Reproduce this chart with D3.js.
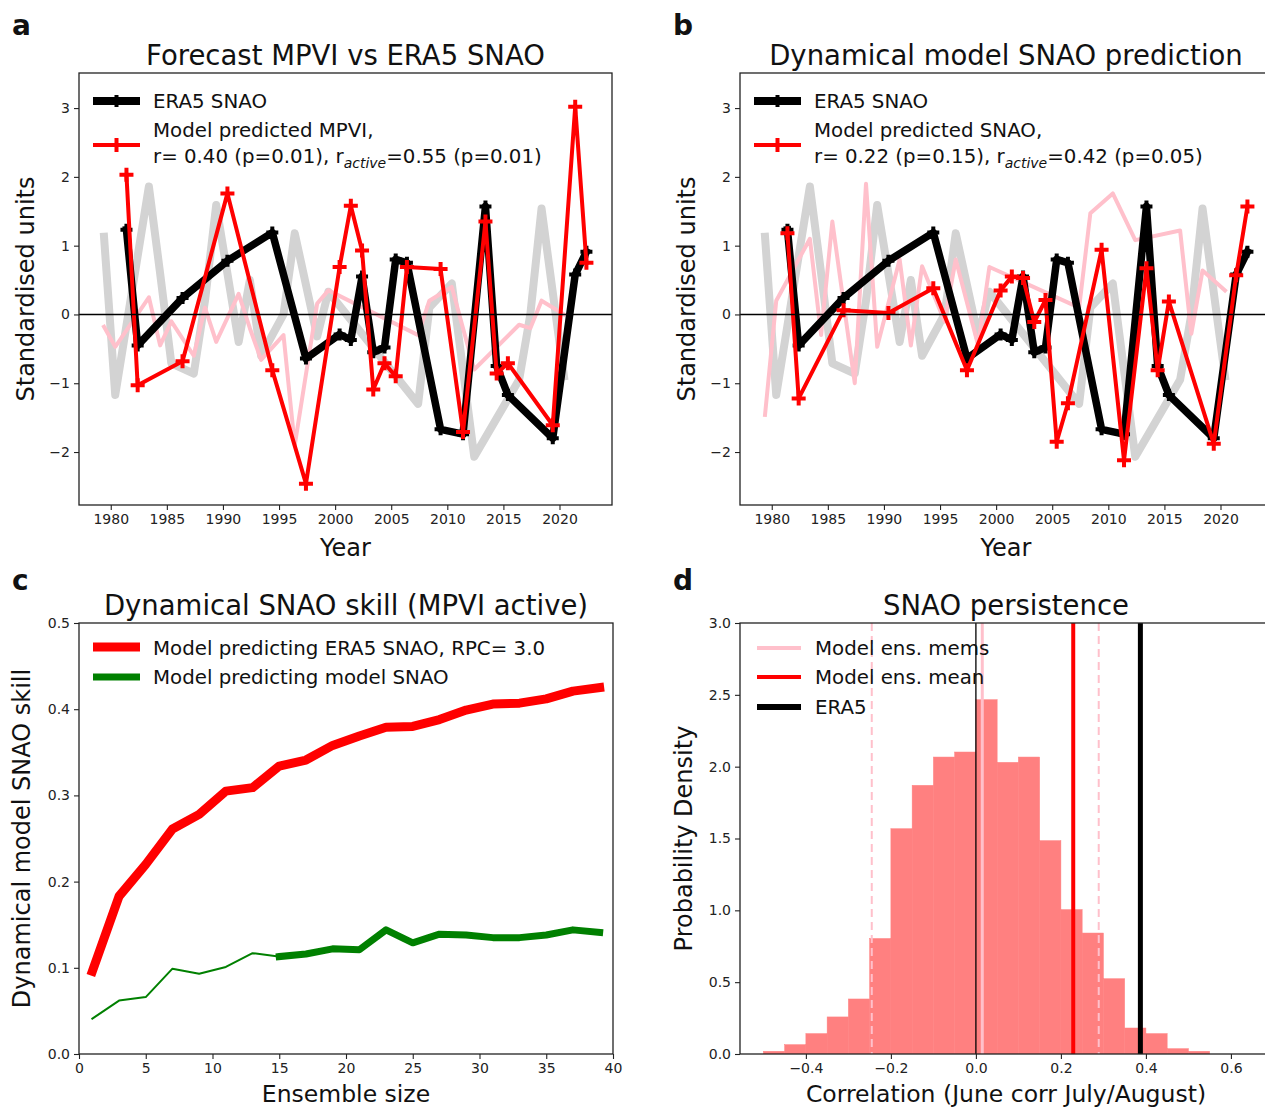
<!DOCTYPE html>
<html>
<head>
<meta charset="utf-8">
<script src="https://cdn.jsdelivr.net/npm/d3@7"></script>
<style>
  body { margin: 0; background: #fff; }
  text { font-family: "DejaVu Sans", sans-serif; }
</style>
</head>
<body>
<div id="chart"></div>
<script>
// ---- data ----
// years where the MPVI is active (plotted a little right of the integer year)
const activeYears = [1981.4, 1982.4, 1986.4, 1990.4, 1994.4, 1997.4, 2000.4, 2001.4, 2002.4, 2003.4, 2004.4,
    2005.4, 2006.4, 2009.4, 2011.4, 2013.4, 2014.4, 2015.4, 2019.4, 2021.4, 2022.4];
const era5Active = [1.23, -0.45, 0.24, 0.78, 1.19, -0.64, -0.29, -0.37, 0.55, -0.55, -0.48,
    0.8, 0.75, -1.67, -1.74, 1.57, -0.75, -1.17, -1.8, 0.58, 0.91];
const mpviActive = [2.03, -1.03, -0.68, 1.76, -0.81, -2.46, 0.69, 1.58, 0.93, -1.09, -0.71,
    -0.9, 0.69, 0.66, -1.71, 1.35, -0.86, -0.71, -1.61, 3.02, 0.75];
const snaoPredActive = [1.18, -1.22, 0.06, 0.02, 0.38, -0.81, 0.35, 0.55, 0.53, -0.11, 0.21,
    -1.85, -1.29, 0.94, -2.12, 0.67, -0.81, 0.19, -1.88, 0.57, 1.57];

// the other (inactive) years, drawn faint in the background
const inactiveYears = [1979.4, 1980.4, 1983.4, 1984.4, 1985.4, 1987.4, 1988.4, 1989.4, 1991.4, 1992.4, 1993.4,
    1995.4, 1996.4, 1998.4, 1999.4, 2007.4, 2008.4, 2010.4, 2012.4, 2016.4, 2017.4, 2018.4, 2020.4];
const era5Inactive = [1.13, -1.17, 1.86, 0.6, -0.71, -0.86, 0.2, 1.59, -0.4, 0.5, -0.6,
    0.0, 1.18, -0.32, 0.33, -1.3, 0.1, 0.45, -2.07, -0.95, 0.0, 1.54, -0.9];
const mpviInactive = [-0.18, -0.47, 0.25, -0.45, -0.1, -0.6, 0.1, -0.4, 0.3, -0.2, -0.66,
    -0.3, -1.9, 0.16, 0.35, -0.3, 0.2, 0.4, -0.8, -0.15, -0.2, 0.2, 0.0];
const snaoPredInactive = [-1.46, 0.2, 1.1, -0.3, 1.35, -1.0, 1.9, -0.47, 0.8, -0.45, 0.7,
    -0.1, 0.8, -0.45, 0.69, 0.1, 1.47, 1.76, 1.08, 1.22, -0.28, 0.64, 0.35];

// panel c: skill vs ensemble size
const ensSizes = [1, 3, 5, 7, 9, 11, 13, 15, 17, 19, 21, 23, 25, 27, 29, 31, 33, 35, 37, 39];
const skillEra5 = [0.096, 0.183, 0.22, 0.261, 0.278, 0.305, 0.309, 0.334, 0.341, 0.358,
    0.369, 0.379, 0.38, 0.388, 0.399, 0.406, 0.407, 0.412, 0.421, 0.425];
const skillModel = [0.041, 0.062, 0.066, 0.099, 0.093, 0.101, 0.117, 0.113, 0.116, 0.122,
    0.121, 0.144, 0.129, 0.139, 0.138, 0.135, 0.135, 0.138, 0.144, 0.141];

// panel d: histogram of member correlations
const binStarts = [-0.5, -0.45, -0.4, -0.35, -0.3, -0.25, -0.2, -0.15, -0.1, -0.05, 0.0,
    0.05, 0.1, 0.15, 0.2, 0.25, 0.3, 0.35, 0.4, 0.45, 0.5];
const binWidth = 0.05;
const density = [0.019, 0.065, 0.142, 0.258, 0.383, 0.804, 1.568, 1.87, 2.067, 2.102, 2.466,
    2.03, 2.067, 1.485, 1.005, 0.842, 0.524, 0.181, 0.142, 0.037, 0.019];
const memsMean = 0.015;
const memsSpread = [-0.245, 0.289];
const ensMeanCorr = 0.229;
const era5Corr = 0.387;

// ---- figure ----
const W = 1265, H = 1109;
const svg = d3.select("#chart").append("svg")
    .attr("width", W)
    .attr("height", H);

const tickFont = "14px";
const legendFont = "19.8px";
let clipCount = 0;

function makeAxes(box, xDomain, yDomain) {
    const x = d3.scaleLinear().domain(xDomain).range([box.left, box.right]);
    const y = d3.scaleLinear().domain(yDomain).range([box.bottom, box.top]);
    const id = "clip" + (clipCount++);
    svg.append("clipPath").attr("id", id).append("rect")
        .attr("x", box.left).attr("y", box.top)
        .attr("width", box.right - box.left).attr("height", box.bottom - box.top);
    const plot = svg.append("g").attr("clip-path", `url(#${id})`);
    return { x, y, plot, box };
}

function drawFrame(ax, xTicks, xFmt, yTicks, yFmt) {
    const { box, x, y } = ax;
    const xa = svg.append("g")
        .attr("transform", `translate(0, ${box.bottom})`)
        .call(d3.axisBottom(x).tickValues(xTicks).tickFormat(xFmt).tickSize(5).tickPadding(4).tickSizeOuter(0));
    const ya = svg.append("g")
        .attr("transform", `translate(${box.left}, 0)`)
        .call(d3.axisLeft(y).tickValues(yTicks).tickFormat(yFmt).tickSize(5).tickPadding(4).tickSizeOuter(0));
    [xa, ya].forEach(a => {
        a.select(".domain").remove();
        a.selectAll("text").style("font-size", tickFont).style("font-family", "DejaVu Sans").attr("fill", "#222");
        a.selectAll("line").attr("stroke", "#222").attr("stroke-width", 1.1);
    });
    svg.append("rect")
        .attr("x", box.left).attr("y", box.top)
        .attr("width", box.right - box.left).attr("height", box.bottom - box.top)
        .attr("fill", "none").attr("stroke", "#222").attr("stroke-width", 1.3);
}

function labels(box, title, xLabel, yLabel, yLabelX, letter, letterY, xLabelGap, xLabelSize) {
    const cx = Math.min((box.left + box.right) / 2, 1006);
    svg.append("text").attr("x", cx).attr("y", box.top - 8)
        .attr("text-anchor", "middle").style("font-size", "27.5px").attr("fill", "#111").text(title);
    svg.append("text").attr("x", cx).attr("y", box.bottom + xLabelGap)
        .attr("text-anchor", "middle").style("font-size", xLabelSize).attr("fill", "#111").text(xLabel);
    svg.append("text")
        .attr("transform", `translate(${yLabelX}, ${(box.top + box.bottom) / 2}) rotate(-90)`)
        .attr("text-anchor", "middle").style("font-size", "24px").attr("fill", "#111").text(yLabel);
    svg.append("text").attr("x", box.left - 67).attr("y", letterY)
        .style("font-size", "28px").style("font-weight", "bold").attr("fill", "#111").text(letter);
}

const plus = s => `M${-s},0H${s}M0,${-s}V${s}`;

function seriesLine(ax, xs, ys, color, width, marker) {
    const pts = xs.map((d, i) => [d, ys[i]]);
    const line = d3.line().x(d => ax.x(d[0])).y(d => ax.y(d[1]));
    ax.plot.append("path").datum(pts)
        .attr("d", line)
        .attr("fill", "none")
        .attr("stroke", color)
        .attr("stroke-width", width)
        .attr("stroke-linejoin", "round")
        .attr("stroke-linecap", "square");
    if (marker) {
        ax.plot.selectAll(null).data(pts).enter().append("path")
            .attr("transform", d => `translate(${ax.x(d[0])}, ${ax.y(d[1])})`)
            .attr("d", plus(marker.size))
            .attr("stroke", color)
            .attr("stroke-width", marker.width);
    }
}

function legendText(xp, yp, str) {
    return svg.append("text").attr("x", xp).attr("y", yp)
        .style("font-size", legendFont).attr("fill", "#111").text(str);
}

function rActive(xp, yp, before, after) {
    const t = svg.append("text").attr("x", xp).attr("y", yp).style("font-size", legendFont).attr("fill", "#111");
    t.append("tspan").text(before);
    t.append("tspan").attr("dy", 5).style("font-size", "14px").style("font-style", "italic").text("active");
    t.append("tspan").attr("dy", -5).text(after);
}

function legendHandle(x0, x1, yp, color, width, marker) {
    svg.append("line").attr("x1", x0).attr("x2", x1).attr("y1", yp).attr("y2", yp)
        .attr("stroke", color).attr("stroke-width", width);
    if (marker) {
        svg.append("path").attr("transform", `translate(${(x0 + x1) / 2}, ${yp})`)
            .attr("d", plus(marker.size)).attr("stroke", color).attr("stroke-width", marker.width);
    }
}

const yearTicks = d3.range(1980, 2021, 5);
const stdTicks = [-2, -1, 0, 1, 2, 3];
const yearDomain = [1977.17, 2024.68];
const stdDomain = [-2.77, 3.51];

// ---- panel a and b ----
function timePanel(box, predActive, predInactive, title, letter, legendLines) {
    const ax = makeAxes(box, yearDomain, stdDomain);
    seriesLine(ax, inactiveYears, era5Inactive, "#d3d3d3", 8);
    seriesLine(ax, inactiveYears, predInactive, "#ffc0cb", 4);
    seriesLine(ax, activeYears, era5Active, "#000", 7.5, { size: 6, width: 4 });
    seriesLine(ax, activeYears, predActive, "#ff0000", 4, { size: 7, width: 4 });
    ax.plot.append("line")
        .attr("x1", box.left).attr("x2", box.right)
        .attr("y1", ax.y(0)).attr("y2", ax.y(0))
        .attr("stroke", "#000").attr("stroke-width", 1.5);
    drawFrame(ax, yearTicks, d3.format("d"), stdTicks, d3.format("d"));
    labels(box, title, "Year", "Standardised units", box.left - 45, letter, 35, 51, "24px");

    const lx = box.left + 14;
    legendHandle(lx, lx + 47, 101, "#000", 8, { size: 6, width: 4 });
    legendText(lx + 60, 108, "ERA5 SNAO");
    legendHandle(lx, lx + 47, 145, "#ff0000", 4, { size: 7, width: 4 });
    legendText(lx + 60, 137, legendLines[0]);
    rActive(lx + 60, 163, legendLines[1], legendLines[2]);
}

timePanel({ left: 79, right: 612, top: 73, bottom: 505 }, mpviActive, mpviInactive,
    "Forecast MPVI vs ERA5 SNAO", "a",
    ["Model predicted MPVI,", "r= 0.40 (p=0.01), r", "=0.55 (p=0.01)"]);

timePanel({ left: 740, right: 1273, top: 73, bottom: 505 }, snaoPredActive, snaoPredInactive,
    "Dynamical model SNAO prediction", "b",
    ["Model predicted SNAO,", "r= 0.22 (p=0.15), r", "=0.42 (p=0.05)"]);

// ---- panel c ----
{
    const box = { left: 79, right: 613, top: 623, bottom: 1054 };
    const ax = makeAxes(box, [0, 40], [0, 0.5]);
    seriesLine(ax, ensSizes, skillEra5, "#ff0000", 9);
    const split = ensSizes.indexOf(15);
    seriesLine(ax, ensSizes.slice(0, split + 1), skillModel.slice(0, split + 1), "#008000", 2);
    seriesLine(ax, ensSizes.slice(split), skillModel.slice(split), "#008000", 7);
    drawFrame(ax, d3.range(0, 41, 5), d3.format("d"), d3.range(0, 0.51, 0.1), d3.format(".1f"));
    labels(box, "Dynamical SNAO skill (MPVI active)", "Ensemble size", "Dynamical model SNAO skill",
        box.left - 49, "c", 590, 48, "23.5px");
    legendHandle(93, 140, 647, "#ff0000", 9);
    legendText(153, 655, "Model predicting ERA5 SNAO, RPC= 3.0");
    legendHandle(93, 140, 677, "#008000", 7);
    legendText(153, 684, "Model predicting model SNAO");
}

// ---- panel d ----
{
    const box = { left: 740, right: 1273, top: 623, bottom: 1054 };
    const ax = makeAxes(box, [-0.555, 0.699], [0, 3.0]);
    ax.plot.selectAll(".bin").data(binStarts).enter().append("rect")
        .attr("x", d => ax.x(d))
        .attr("width", d => ax.x(d + binWidth) - ax.x(d))
        .attr("y", (d, i) => ax.y(density[i]))
        .attr("height", (d, i) => ax.y(0) - ax.y(density[i]))
        .attr("fill", "#ff8080")
        .attr("stroke", "#ff8080")
        .attr("stroke-width", 0.5);
    const vline = (v, color, width, dash) => ax.plot.append("line")
        .attr("x1", ax.x(v)).attr("x2", ax.x(v))
        .attr("y1", box.top).attr("y2", box.bottom)
        .attr("stroke", color).attr("stroke-width", width)
        .attr("stroke-dasharray", dash || null);
    vline(0, "#000", 1.3);
    memsSpread.forEach(v => vline(v, "#ffc0cb", 2, "8,5"));
    vline(memsMean, "#ffc0cb", 3);
    vline(ensMeanCorr, "#ff0000", 4);
    vline(era5Corr, "#000", 5);
    drawFrame(ax, [-0.4, -0.2, 0, 0.2, 0.4, 0.6], d3.format(".1f"), d3.range(0, 3.01, 0.5), d3.format(".1f"));
    labels(box, "SNAO persistence", "Correlation (June corr July/August)", "Probability Density",
        box.left - 48, "d", 590, 48, "23.5px");
    legendHandle(757, 801, 648, "#ffc0cb", 4);
    legendText(815, 655, "Model ens. mems");
    legendHandle(757, 801, 677, "#ff0000", 4);
    legendText(815, 684, "Model ens. mean");
    legendHandle(757, 801, 707, "#000", 6);
    legendText(815, 714, "ERA5");
}
</script>
</body>
</html>
